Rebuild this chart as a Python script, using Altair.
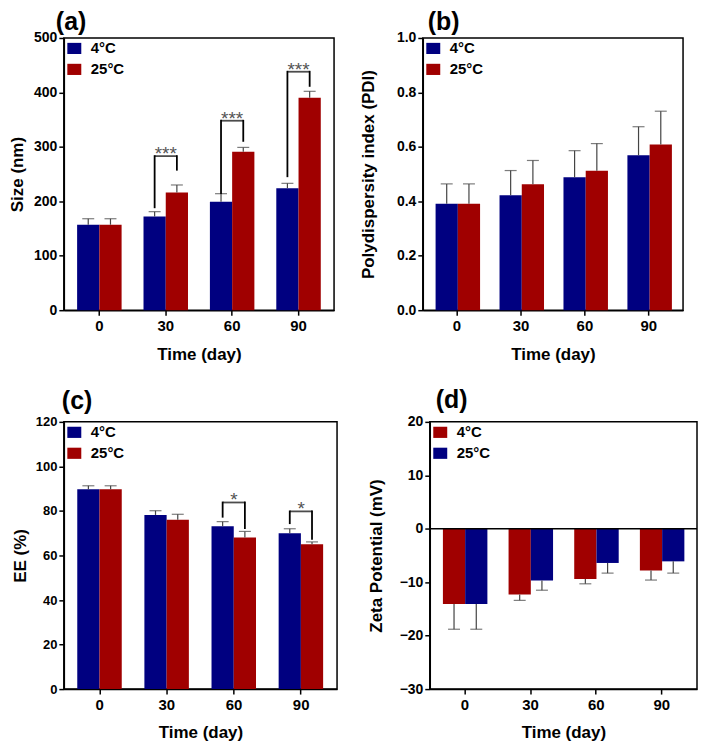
import altair as alt
import pandas as pd

FONT = "Liberation Sans"
BLUE = "#000080"
RED = "#a00000"

days = ["0", "30", "60", "90"]
temps = ["4°C", "25°C"]

# (a) Size (nm)
size_4 = [157, 172, 199, 224]
size_4_err = [168, 181, 214, 233]
size_25 = [157, 216, 291, 390]
size_25_err = [168, 230, 299, 402]
size_sig_days = ["30", "60", "90"]
size_sig_left = [189, 215, 246]
size_sig_right = [258, 311, 412]
size_sig_top = [283, 348, 438]
size_sig_text = ["***", "***", "***"]
size_ticks = [0, 100, 200, 300, 400, 500]

# (b) PDI
pdi_4 = [0.391, 0.422, 0.488, 0.569]
pdi_4_err = [0.464, 0.513, 0.586, 0.674]
pdi_25 = [0.391, 0.463, 0.512, 0.609]
pdi_25_err = [0.464, 0.550, 0.612, 0.731]
pdi_ticks = [0.0, 0.2, 0.4, 0.6, 0.8, 1.0]

# (c) EE (%)
ee_4 = [89.7, 78.2, 73.1, 70.0]
ee_4_err = [91.3, 80.1, 75.2, 72.0]
ee_25 = [89.7, 76.1, 68.1, 65.0]
ee_25_err = [91.3, 78.5, 70.8, 66.1]
ee_sig_days = ["60", "90"]
ee_sig_left = [77.4, 74.5]
ee_sig_right = [72.3, 67.5]
ee_sig_top = [83.8, 79.8]
ee_sig_text = ["*", "*"]
ee_ticks = [0, 20, 40, 60, 80, 100, 120]

# (d) Zeta potential (mV)
zeta_4 = [-14.1, -12.3, -9.4, -7.8]
zeta_4_err = [-18.8, -13.4, -10.3, -9.6]
zeta_25 = [-14.1, -9.7, -6.4, -6.1]
zeta_25_err = [-18.8, -11.5, -8.3, -8.3]
zeta_ticks = [-30, -20, -10, 0, 10, 20]

PI, PO = 0.33, 0.2


def make_df(v4, e4, v25, e25):
    rows = []
    for i, d in enumerate(days):
        rows.append({"day": d, "temp": temps[0], "value": v4[i], "err": e4[i]})
        rows.append({"day": d, "temp": temps[1], "value": v25[i], "err": e25[i]})
    return pd.DataFrame(rows)


def make_sig(sdays, left, right, top, text):
    legs = []
    tops = []
    for i, d in enumerate(sdays):
        legs.append({"day": d, "temp": temps[0], "value": left[i], "err": top[i]})
        legs.append({"day": d, "temp": temps[1], "value": right[i], "err": top[i]})
        tops.append({"day": d, "value": top[i], "label": text[i]})
    return pd.DataFrame(legs), pd.DataFrame(tops)


def panel(df, title, title_dx, title_off, ytitle, ticks, yfmt, colors, w, h, ext, tpad,
          ylab_size, sig=None, zero_line=False):
    ydom = [ticks[0], ticks[-1]]

    def X():
        return alt.X("day:N", sort=days, title="Time (day)",
                     scale=alt.Scale(domain=days, paddingInner=PI, paddingOuter=PO),
                     axis=alt.Axis(labelAngle=0, labelFontSize=15, labelPadding=3,
                                   titlePadding=13, titleFontSize=17))

    def XO():
        return alt.XOffset("temp:N", scale=alt.Scale(domain=temps))

    def Y(field):
        return alt.Y(field, title=ytitle,
                     scale=alt.Scale(domain=ydom, nice=False, zero=False),
                     axis=alt.Axis(values=ticks, format=yfmt, labelFontSize=ylab_size,
                                   labelPadding=2, minExtent=ext, maxExtent=ext,
                                   titlePadding=tpad, titleFontSize=17))

    legend = alt.Legend(title=None, orient="top-left", offset=3, padding=0,
                        symbolType="M-1,-0.8H1V0.8H-1Z", symbolSize=196,
                        symbolStrokeWidth=0, symbolOpacity=1,
                        labelFontSize=15, labelFont=FONT, labelFontWeight="bold",
                        labelColor="black", labelOffset=9, rowPadding=5)

    bars = alt.Chart(df).mark_bar(opacity=1).encode(
        x=X(), xOffset=XO(), y=Y("value:Q"),
        color=alt.Color("temp:N", scale=alt.Scale(domain=temps, range=colors),
                        legend=legend),
    )
    err = alt.Chart(df).mark_rule(color="#444444", strokeWidth=1.2).encode(
        x=X(), xOffset=XO(), y=Y("value:Q"), y2="err:Q")
    caps = alt.Chart(df).mark_tick(orient="horizontal", size=12, thickness=1.2,
                                   color="#444444").encode(
        x=X(), xOffset=XO(), y=Y("err:Q"))
    layers = [bars, err, caps]

    if zero_line:
        zdf = pd.DataFrame({"value": [0]})
        layers.append(alt.Chart(zdf).mark_rule(color="black", strokeWidth=1.4).encode(
            y=Y("value:Q")))

    if sig is not None:
        legs, tops = sig
        sub = w / (4 - PI + 2 * PO) * (1 - PI) / 2
        layers.append(alt.Chart(legs).mark_rule(color="black", strokeWidth=1.8,
                                                strokeCap="square").encode(
            x=X(), xOffset=XO(), y=Y("value:Q"), y2="err:Q"))
        layers.append(alt.Chart(tops).mark_tick(orient="horizontal", size=sub,
                                                thickness=1.8, color="black").encode(
            x=X(), y=Y("value:Q")))
        layers.append(alt.Chart(tops).mark_text(fontSize=19, font=FONT, color="#555555",
                                                baseline="alphabetic", dy=4).encode(
            x=X(), y=Y("value:Q"), text="label:N"))

    return alt.layer(*layers).properties(
        width=w, height=h,
        title=alt.TitleParams(title, anchor="start", frame="group", dx=title_dx,
                              offset=title_off, fontSize=25, font=FONT,
                              fontWeight="bold", color="black"),
    )


a = panel(make_df(size_4, size_4_err, size_25, size_25_err), "(a)", -8, -4, "Size (nm)",
          size_ticks, "d", [BLUE, RED], 271, 273, 30, 7, 14,
          sig=make_sig(size_sig_days, size_sig_left, size_sig_right, size_sig_top,
                       size_sig_text))
b = panel(make_df(pdi_4, pdi_4_err, pdi_25, pdi_25_err), "(b)", 5, -4,
          "Polydispersity index (PDI)", pdi_ticks, ".1f", [BLUE, RED], 261, 273, 30, 15, 14)
c = panel(make_df(ee_4, ee_4_err, ee_25, ee_25_err), "(c)", -2, 2, "EE (%)", ee_ticks, "d",
          [BLUE, RED], 274, 268, 29, 5, 13,
          sig=make_sig(ee_sig_days, ee_sig_left, ee_sig_right, ee_sig_top, ee_sig_text))
d = panel(make_df(zeta_4, zeta_4_err, zeta_25, zeta_25_err), "(d)", 6, 2,
          "Zeta Potential (mV)", zeta_ticks, "d", [RED, BLUE], 268, 268, 28, 16, 14,
          zero_line=True)

row1 = alt.hconcat(a, b, spacing=24).resolve_scale(color="independent")
row2 = alt.hconcat(c, d, spacing=29).resolve_scale(color="independent")

chart = alt.vconcat(row1, row2, spacing=24).resolve_scale(
    color="independent"
).properties(
    padding={"left": 0, "top": 0, "right": 0, "bottom": 0},
    background="white",
).configure_view(
    stroke="black", strokeWidth=1.5
).configure_axis(
    grid=False, domainColor="black", domainWidth=1.5, tickColor="black",
    tickWidth=1.5, tickSize=5, labelFont=FONT, labelFontWeight="bold",
    labelColor="black", titleFont=FONT, titleFontWeight="bold", titleColor="black"
)

chart.save("out.html", embed_options={"renderer": "svg", "actions": False})
